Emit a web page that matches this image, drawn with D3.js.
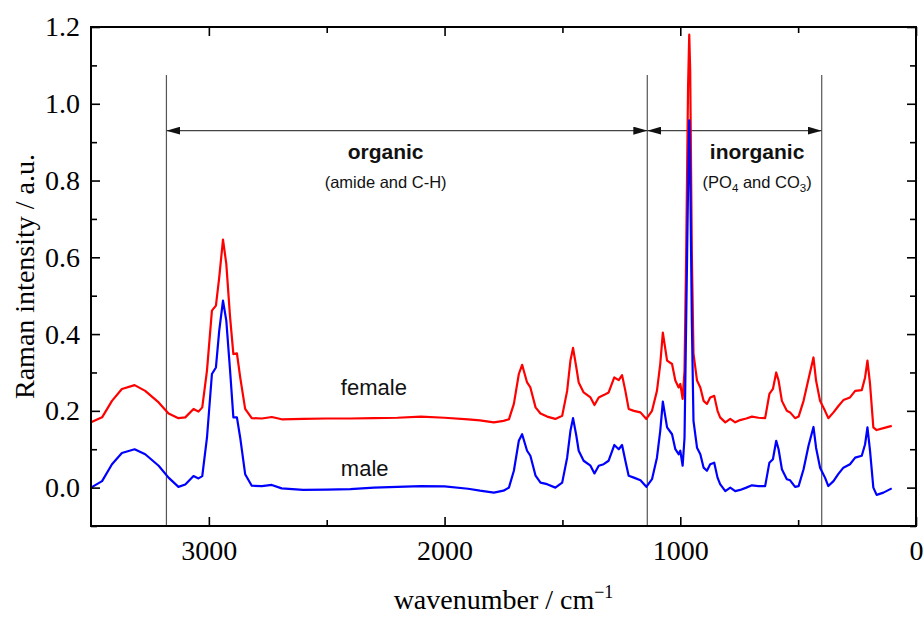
<!DOCTYPE html>
<html>
<head>
<meta charset="utf-8">
<script src="https://cdn.jsdelivr.net/npm/d3@7"></script>
<style>
  html, body { margin: 0; padding: 0; background: #fff; }
</style>
</head>
<body>
<div id="container"></div>
<script>
// Raman spectra (wavenumber in cm^-1, intensity in a.u.)
const wavenumber = [3500, 3453, 3411, 3369, 3315, 3270, 3213, 3171, 3129, 3100, 3065, 3044, 3028, 3008, 2987, 2970, 2956, 2940, 2926, 2910, 2896, 2881, 2867, 2846, 2818, 2775, 2733, 2691, 2600, 2500, 2400, 2300, 2200, 2100, 2000, 1900, 1850, 1791, 1750, 1727, 1706, 1685, 1671, 1650, 1636, 1614, 1593, 1565, 1530, 1501, 1480, 1466, 1455, 1441, 1431, 1410, 1381, 1364, 1346, 1325, 1304, 1280, 1261, 1247, 1233, 1219, 1197, 1169, 1144, 1120, 1099, 1085, 1074, 1056, 1035, 1021, 1007, 1000, 990, 982, 975, 967, 962, 958, 951, 944, 929, 915, 901, 887, 873, 856, 842, 831, 809, 788, 767, 746, 720, 696, 668, 640, 622, 607, 593, 583, 569, 548, 534, 513, 498, 477, 456, 435, 424, 407, 386, 372, 350, 330, 308, 280, 258, 230, 216, 206, 195, 181, 167, 138, 103];

const female = [0.170, 0.183, 0.226, 0.257, 0.267, 0.252, 0.222, 0.193, 0.181, 0.183, 0.205, 0.198, 0.209, 0.305, 0.461, 0.474, 0.548, 0.646, 0.583, 0.444, 0.348, 0.350, 0.287, 0.205, 0.181, 0.180, 0.184, 0.178, 0.179, 0.180, 0.180, 0.181, 0.182, 0.185, 0.182, 0.178, 0.175, 0.170, 0.174, 0.178, 0.218, 0.296, 0.320, 0.274, 0.261, 0.209, 0.193, 0.185, 0.179, 0.187, 0.252, 0.331, 0.364, 0.313, 0.274, 0.248, 0.235, 0.215, 0.235, 0.241, 0.248, 0.287, 0.280, 0.293, 0.252, 0.205, 0.200, 0.196, 0.179, 0.200, 0.252, 0.322, 0.404, 0.331, 0.322, 0.279, 0.261, 0.270, 0.231, 0.305, 0.610, 1.044, 1.180, 1.088, 0.610, 0.349, 0.279, 0.261, 0.226, 0.218, 0.235, 0.239, 0.200, 0.183, 0.170, 0.179, 0.170, 0.176, 0.180, 0.185, 0.182, 0.181, 0.244, 0.257, 0.300, 0.279, 0.226, 0.200, 0.196, 0.181, 0.185, 0.226, 0.283, 0.339, 0.279, 0.226, 0.200, 0.181, 0.196, 0.212, 0.228, 0.235, 0.252, 0.254, 0.287, 0.331, 0.270, 0.157, 0.150, 0.155, 0.161];

const male = [0.000, 0.017, 0.061, 0.090, 0.100, 0.087, 0.057, 0.026, 0.002, 0.008, 0.030, 0.024, 0.030, 0.130, 0.296, 0.313, 0.409, 0.487, 0.435, 0.305, 0.183, 0.183, 0.130, 0.035, 0.005, 0.004, 0.007, -0.002, -0.006, -0.005, -0.004, 0.000, 0.002, 0.004, 0.003, -0.003, -0.008, -0.013, -0.008, 0.000, 0.044, 0.122, 0.139, 0.096, 0.083, 0.031, 0.013, 0.009, 0.000, 0.013, 0.078, 0.148, 0.181, 0.135, 0.096, 0.070, 0.057, 0.037, 0.057, 0.061, 0.070, 0.111, 0.100, 0.111, 0.070, 0.031, 0.026, 0.019, 0.002, 0.022, 0.078, 0.148, 0.224, 0.157, 0.139, 0.100, 0.087, 0.096, 0.057, 0.130, 0.435, 0.783, 0.957, 0.827, 0.435, 0.174, 0.104, 0.087, 0.052, 0.044, 0.061, 0.065, 0.026, 0.009, -0.009, 0.000, -0.009, -0.006, 0.000, 0.006, 0.004, 0.004, 0.065, 0.074, 0.122, 0.100, 0.048, 0.022, 0.019, 0.002, 0.004, 0.048, 0.109, 0.158, 0.104, 0.052, 0.026, 0.004, 0.017, 0.035, 0.052, 0.061, 0.078, 0.083, 0.113, 0.157, 0.096, 0.000, -0.019, -0.013, -0.002];

// Axis ticks
const xTicks = [3000, 2000, 1000, 0];
const xMinorTicks = [2500, 1500, 500];
const yTicks = [0.0, 0.2, 0.4, 0.6, 0.8, 1.0, 1.2];
const yMinorTicks = [-0.1, 0.1, 0.3, 0.5, 0.7, 0.9, 1.1];

// Region boundaries (cm^-1) and the level of the arrows / top of the lines
const regionBounds = [3180, 1140, 400];
const boundTop = 1.075;
const arrowLevel = 0.93;

console.log("lengths", wavenumber.length, female.length, male.length);

const width = 924;
const height = 617;
const marginTop = 27;
const marginRight = 8;
const marginBottom = 91;
const marginLeft = 91;

const svg = d3.create("svg").attr("width", width).attr("height", height);

const x = d3.scaleLinear()
  .domain([3500, 0])
  .range([marginLeft, width - marginRight]);

const y = d3.scaleLinear()
  .domain([-0.1, 1.2])
  .range([height - marginBottom, marginTop]);

const serif = "'Liberation Serif', 'Times New Roman', serif";
const sans = "'Liberation Sans', Arial, sans-serif";

// Arrow marker
const defs = svg.append("defs");
defs.append("marker")
  .attr("id", "head")
  .attr("viewBox", "0 0 14 8")
  .attr("refX", 14)
  .attr("refY", 4)
  .attr("markerWidth", 14)
  .attr("markerHeight", 8)
  .attr("markerUnits", "userSpaceOnUse")
  .attr("orient", "auto-start-reverse")
  .append("path")
  .attr("d", "M0,0L14,4L0,8Z")
  .attr("fill", "#111");

// Region boundary lines
svg.append("g")
  .selectAll("line")
  .data(regionBounds)
  .join("line")
  .attr("x1", d => x(d))
  .attr("x2", d => x(d))
  .attr("y1", y(boundTop))
  .attr("y2", y(-0.1))
  .attr("stroke", "#555")
  .attr("stroke-width", 1.2);

// Double headed arrows between boundaries
const spans = d3.pairs(regionBounds);
svg.append("g")
  .selectAll("line")
  .data(spans)
  .join("line")
  .attr("x1", d => x(d[0]))
  .attr("x2", d => x(d[1]))
  .attr("y1", y(arrowLevel))
  .attr("y2", y(arrowLevel))
  .attr("stroke", "#444")
  .attr("stroke-width", 1.2)
  .attr("marker-start", "url(#head)")
  .attr("marker-end", "url(#head)");

// Spectra
const line = d3.line()
  .x(d => x(d[0]))
  .y(d => y(d[1]));

const series = [
  { name: "female", values: female, color: "#ff0000" },
  { name: "male", values: male, color: "#0000ff" }
];

svg.append("g")
  .selectAll("path")
  .data(series)
  .join("path")
  .attr("fill", "none")
  .attr("stroke", d => d.color)
  .attr("stroke-width", 2.2)
  .attr("stroke-linejoin", "round")
  .attr("d", d => line(wavenumber.map((w, i) => [w, d.values[i]])));

// Region labels
const labels = svg.append("g").attr("font-family", sans).attr("text-anchor", "middle").attr("fill", "#111");
labels.append("text")
  .attr("x", x(2250)).attr("y", y(0.855))
  .attr("font-size", 21).attr("font-weight", "bold")
  .text("organic");
labels.append("text")
  .attr("x", x(2250)).attr("y", y(0.78))
  .attr("font-size", 16.5)
  .text("(amide and C-H)");

labels.append("text")
  .attr("x", x(674)).attr("y", y(0.855))
  .attr("font-size", 21).attr("font-weight", "bold")
  .text("inorganic");
const sub = labels.append("text")
  .attr("x", x(674)).attr("y", y(0.78))
  .attr("font-size", 16.5);
sub.append("tspan").text("(PO");
sub.append("tspan").attr("font-size", 11.5).attr("dy", 4).text("4");
sub.append("tspan").attr("dy", -4).text(" and CO");
sub.append("tspan").attr("font-size", 11.5).attr("dy", 4).text("3");
sub.append("tspan").attr("dy", -4).text(")");

// Series labels
svg.append("text")
  .attr("x", x(2440)).attr("y", y(0.24))
  .attr("font-family", sans).attr("font-size", 22).attr("fill", "#111")
  .text("female");
svg.append("text")
  .attr("x", x(2440)).attr("y", y(0.03))
  .attr("font-family", sans).attr("font-size", 22).attr("fill", "#111")
  .text("male");

// Axes (ticks pointing inward, mirrored on top and right)
const plotBottom = height - marginBottom;
const plotRight = width - marginRight;

function styleAxis(g) {
  g.select(".domain").remove();
  g.selectAll(".tick line").attr("stroke", "#000").attr("stroke-width", 1.6);
  g.selectAll("text").attr("font-family", serif).attr("font-size", 28).attr("fill", "#000");
}

svg.append("g")
  .attr("transform", `translate(0,${plotBottom})`)
  .call(d3.axisBottom(x).tickValues(xTicks).tickFormat(d3.format("d")).tickSize(-9).tickPadding(14))
  .call(styleAxis);
svg.append("g")
  .attr("transform", `translate(0,${plotBottom})`)
  .call(d3.axisBottom(x).tickValues(xMinorTicks).tickFormat("").tickSize(-6))
  .call(styleAxis);
svg.append("g")
  .attr("transform", `translate(0,${marginTop})`)
  .call(d3.axisTop(x).tickValues(xTicks).tickFormat("").tickSize(-9))
  .call(styleAxis);
svg.append("g")
  .attr("transform", `translate(0,${marginTop})`)
  .call(d3.axisTop(x).tickValues(xMinorTicks).tickFormat("").tickSize(-6))
  .call(styleAxis);

svg.append("g")
  .attr("transform", `translate(${marginLeft},0)`)
  .call(d3.axisLeft(y).tickValues(yTicks).tickFormat(d3.format(".1f")).tickSize(-9).tickPadding(11))
  .call(styleAxis);
svg.append("g")
  .attr("transform", `translate(${marginLeft},0)`)
  .call(d3.axisLeft(y).tickValues(yMinorTicks).tickFormat("").tickSize(-6))
  .call(styleAxis);
svg.append("g")
  .attr("transform", `translate(${plotRight},0)`)
  .call(d3.axisRight(y).tickValues(yTicks).tickFormat("").tickSize(-9))
  .call(styleAxis);
svg.append("g")
  .attr("transform", `translate(${plotRight},0)`)
  .call(d3.axisRight(y).tickValues(yMinorTicks).tickFormat("").tickSize(-6))
  .call(styleAxis);

// Frame
svg.append("rect")
  .attr("x", marginLeft)
  .attr("y", marginTop)
  .attr("width", plotRight - marginLeft)
  .attr("height", plotBottom - marginTop)
  .attr("fill", "none")
  .attr("stroke", "#000")
  .attr("stroke-width", 2);

// Axis titles
const xTitle = svg.append("text")
  .attr("x", (marginLeft + plotRight) / 2)
  .attr("y", 609)
  .attr("text-anchor", "middle")
  .attr("font-family", serif)
  .attr("font-size", 28)
  .attr("fill", "#000");
xTitle.append("tspan").text("wavenumber / cm");
xTitle.append("tspan").attr("font-size", 18).attr("dy", -11).text("\u22121");

svg.append("text")
  .attr("transform", `translate(34,${(marginTop + plotBottom) / 2}) rotate(-90)`)
  .attr("text-anchor", "middle")
  .attr("font-family", serif)
  .attr("font-size", 28)
  .attr("fill", "#000")
  .text("Raman intensity / a.u.");

document.getElementById("container").append(svg.node());
</script>
</body>
</html>
